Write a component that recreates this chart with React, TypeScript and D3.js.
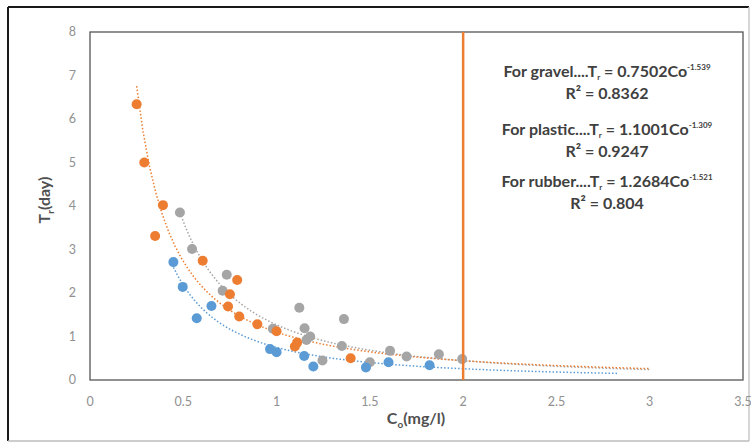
import React from "react";
import * as d3 from "d3";

const xTicks = [0, 0.5, 1, 1.5, 2, 2.5, 3, 3.5];
const yTicks = [0, 1, 2, 3, 4, 5, 6, 7, 8];

const gravelX = [0.447, 0.497, 0.572, 0.651, 0.965, 1.0, 1.148, 1.197, 1.479, 1.6, 1.82];
const gravelY = [2.71, 2.14, 1.42, 1.7, 0.71, 0.64, 0.55, 0.31, 0.29, 0.41, 0.34];

const plasticX = [0.25, 0.291, 0.349, 0.391, 0.604, 0.75, 0.789, 0.74, 0.8, 0.897, 1.0, 1.098, 1.11, 1.397];
const plasticY = [6.34, 5.0, 3.31, 4.02, 2.74, 1.97, 2.3, 1.69, 1.46, 1.28, 1.12, 0.77, 0.86, 0.5];

const rubberX = [0.482, 0.547, 0.733, 0.711, 0.98, 1.122, 1.15, 1.18, 1.16, 1.246, 1.35, 1.361, 1.5, 1.608, 1.697, 1.87, 1.995];
const rubberY = [3.85, 3.01, 2.42, 2.05, 1.18, 1.66, 1.19, 1.0, 0.92, 0.45, 0.78, 1.4, 0.41, 0.67, 0.54, 0.59, 0.48];

// Fitted power trendlines as printed on the chart: T = a * Co^b
const trendCoef = { gravel: 0.7502, plastic: 1.1001, rubber: 1.2684 };
const trendExp = { gravel: -1.539, plastic: -1.309, rubber: -1.521 };
const trendRange = { gravel: [0.447, 2.83], plastic: [0.25, 3.0], rubber: [0.482, 3.0] };

const limitX = 2;

const COLORS = { gravel: "#5B9BD5", plastic: "#ED7D31", rubber: "#A5A5A5" };
const FONT = "Lato, 'Open Sans', sans-serif";

export default function App() {
  const W = 751, H = 444;
  const x = d3.scaleLinear().domain([0, 3.5]).range([90, 743]);
  const y = d3.scaleLinear().domain([0, 8]).range([380, 32]);

  const line = d3.line<[number, number]>().x(d => x(d[0])).y(d => y(d[1]));
  const trend = (k: "gravel" | "plastic" | "rubber") => {
    const [a0, a1] = trendRange[k];
    const n = 80;
    const pts: [number, number][] = d3.range(n + 1).map(i => {
      const xv = a0 + ((a1 - a0) * i) / n;
      return [xv, trendCoef[k] * Math.pow(xv, trendExp[k])];
    });
    return line(pts) || "";
  };

  const series = [
    { key: "rubber" as const, xs: rubberX, ys: rubberY },
    { key: "gravel" as const, xs: gravelX, ys: gravelY },
    { key: "plastic" as const, xs: plasticX, ys: plasticY },
  ];

  const eqs = [
    { name: "gravel", a: "0.7502", e: "-1.539", r2: "0.8362", y: 77 },
    { name: "plastic", a: "1.1001", e: "-1.309", r2: "0.9247", y: 135 },
    { name: "rubber", a: "1.2684", e: "-1.521", r2: "0.804", y: 187 },
  ];

  return (
    <svg width={W} height={H} style={{ position: "absolute", left: 0, top: 0, background: "#fff" }} fontFamily={FONT}>
      <rect x={0} y={0} width={W} height={H} fill="#fff" />
      {/* outer frame */}
      <line x1={8} y1={7} x2={749} y2={7} stroke="#1a1a1a" strokeWidth={2} />
      <line x1={8} y1={7} x2={8} y2={441} stroke="#1a1a1a" strokeWidth={2} />
      <line x1={749} y1={7} x2={749} y2={441} stroke="#c8c8c8" strokeWidth={1.5} />
      <line x1={8} y1={441} x2={749} y2={441} stroke="#bdbdbd" strokeWidth={1.5} />

      {/* plot frame */}
      <rect x={x(0)} y={y(8)} width={x(3.5) - x(0)} height={y(0) - y(8)} fill="none" stroke="#555" strokeWidth={1.3} />

      {/* ticks */}
      {yTicks.map(t => (
        <text key={"y" + t} x={76} y={y(t)} dy="0.35em" textAnchor="end" fontSize={12.5} fill="#909090">{t}</text>
      ))}
      {xTicks.map(t => (
        <text key={"x" + t} x={x(t)} y={406} textAnchor="middle" fontSize={12.5} fill="#909090">{t}</text>
      ))}

      {/* axis titles */}
      <text transform={`translate(50,200) rotate(-90)`} textAnchor="middle" fontSize={16} fontWeight="bold" fill="#505050">
        T<tspan fontSize={10} dy={4}>r</tspan><tspan dy={-4}>(day)</tspan>
      </text>
      <text x={416} y={424} textAnchor="middle" fontSize={16} fontWeight="bold" fill="#505050">
        C<tspan fontSize={10} dy={4}>o</tspan><tspan dy={-4}>(mg/l)</tspan>
      </text>

      {/* trendlines */}
      {series.map(s => (
        <path key={"t" + s.key} d={trend(s.key)} fill="none" stroke={COLORS[s.key]} strokeWidth={1.5} strokeDasharray="1.5,2" />
      ))}

      {/* points */}
      {series.map(s =>
        s.xs.map((xv, i) => (
          <circle key={s.key + i} cx={x(xv)} cy={y(s.ys[i])} r={5} fill={COLORS[s.key]} />
        ))
      )}

      {/* limit line */}
      <line x1={x(limitX)} x2={x(limitX)} y1={y(8)} y2={y(0)} stroke="#ED7D31" strokeWidth={2.5} />

      {/* equations */}
      {eqs.map(q => (
        <g key={q.name} fontWeight="bold" fill="#404040" fontSize={16}>
          <text x={607} y={q.y} textAnchor="middle">
            For {q.name}....T<tspan fontSize={8} dy={3}>r</tspan><tspan dy={-3}> = {q.a}Co</tspan><tspan fontSize={8} dy={-7}>{q.e}</tspan>
          </text>
          <text x={607} y={q.y + 22} textAnchor="middle">R² = {q.r2}</text>
        </g>
      ))}
    </svg>
  );
}
